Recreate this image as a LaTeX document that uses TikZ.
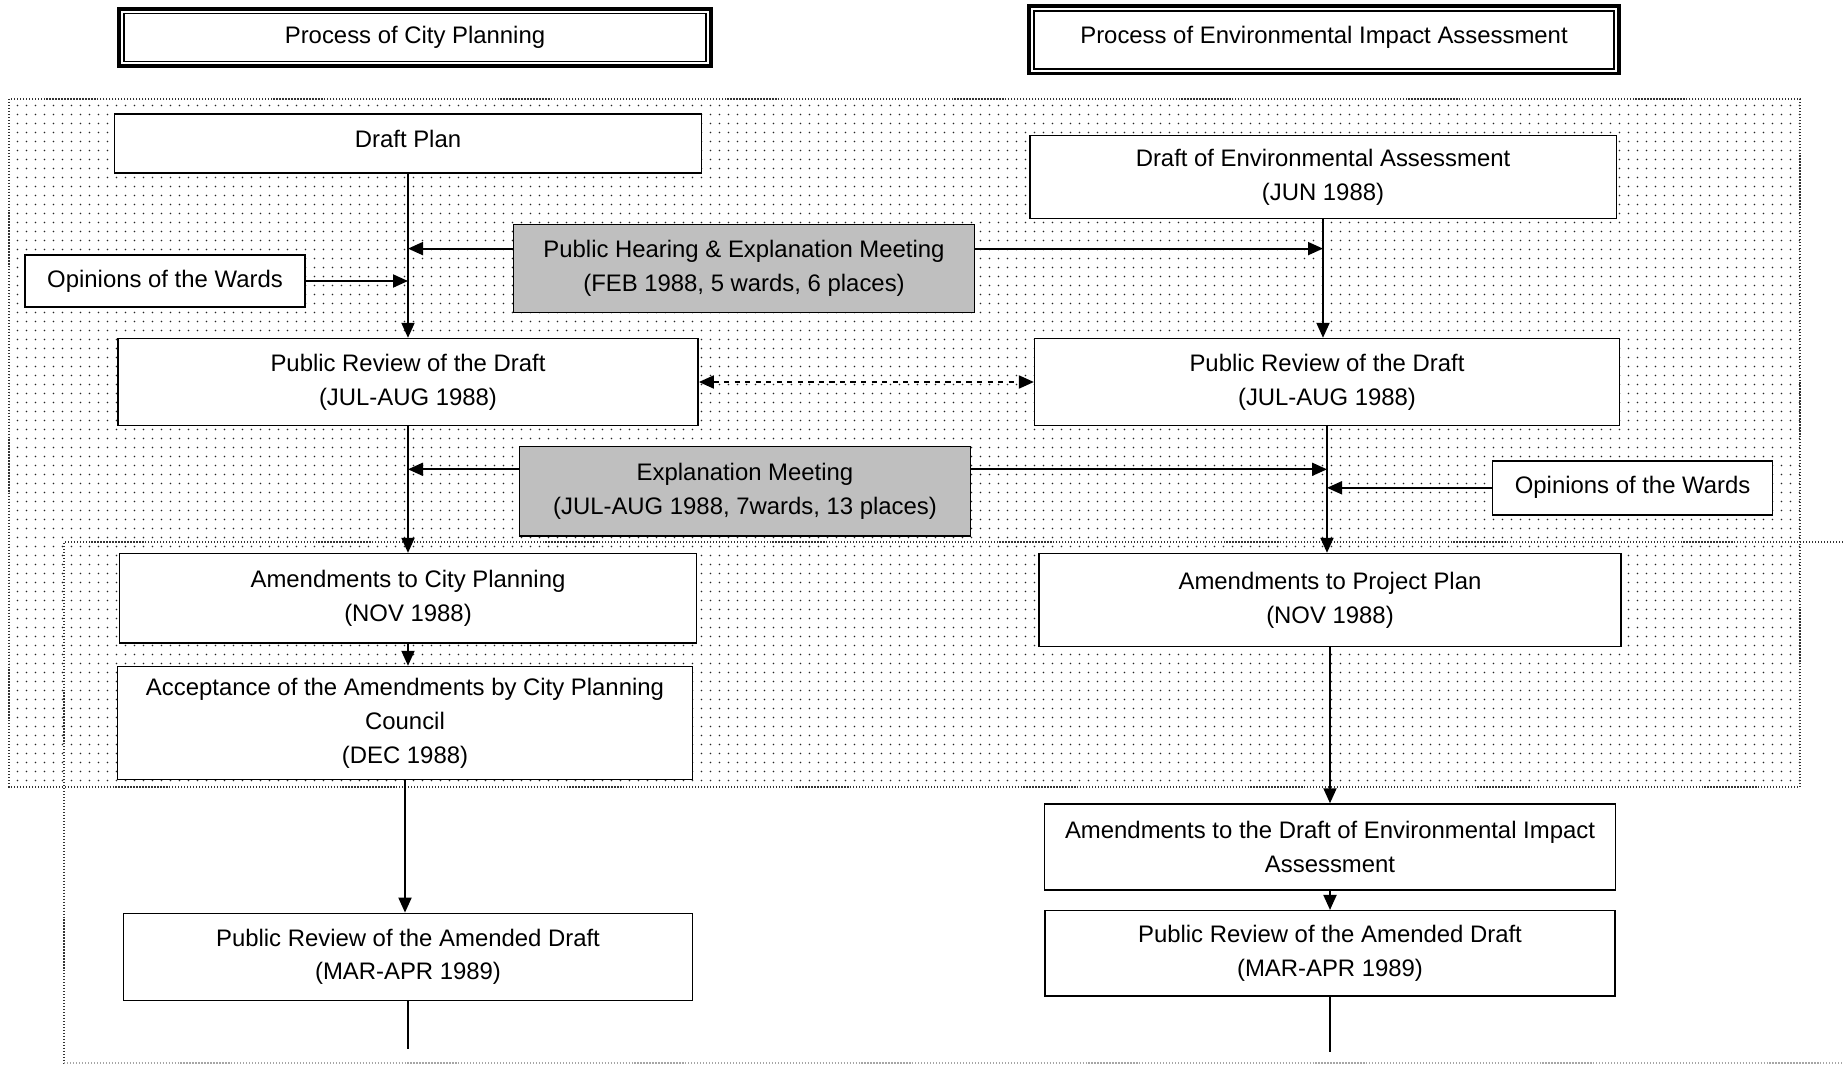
\documentclass[tikz,border=0pt]{standalone}
\usepackage{fontspec}
\setmainfont{Liberation Sans}
\usetikzlibrary{arrows.meta,patterns.meta}

\begin{document}
\begin{tikzpicture}[x=0.02cm,y=-0.02cm,
    font=\fontsize{13.6pt}{19.3pt}\selectfont,
    >={Triangle[length=0.3cm,width=0.26cm]},
    box/.style={draw,fill=white,line width=0.8pt,align=center},
    meeting/.style={box,fill=black!25},
    header/.style={draw,fill=white,line width=2pt,align=center},
    link/.style={line width=1.1pt,->},
    area/.style={draw=black!80,densely dotted,line width=0.7pt}]
  \useasboundingbox (0,0) rectangle (1843,1068);
  \path[area,pattern={Dots[distance=0.18cm,radius=0.5pt]},pattern color=black!85]
    (9,99) rectangle (1800,787);
  \draw[area] (1843,542) -- (64,542) -- (64,1063);
  \draw[area,draw=black!35] (64,1063) -- (1843,1063);
  \node[header,minimum width=11.85cm,minimum height=1.15cm] (cityhead) at (415,37.5)
    {Process of City Planning};
  \node[header,minimum width=11.81cm,minimum height=1.35cm] (eiahead) at (1324,40)
    {\raisebox{0.2cm}{Process of Environmental Impact Assessment}};
  \draw[line width=1.1pt] ([shift={(6.5,6.5)}]cityhead.north west) rectangle ([shift={(-6.5,-6.5)}]cityhead.south east);
  \draw[line width=1.1pt] ([shift={(6.5,6.5)}]eiahead.north west) rectangle ([shift={(-6.5,-6.5)}]eiahead.south east);
  \node[box,minimum width=11.75cm,minimum height=1.18cm] (draftplan) at (408,143.4)
    {\raisebox{0.2cm}{Draft Plan}};
  \node[box,minimum width=11.73cm,minimum height=1.67cm] (drafteia) at (1323,177)
    {Draft of Environmental Assessment\\(JUN 1988)};
  \node[box,minimum width=5.6cm,minimum height=1.04cm] (wardsleft) at (165,281) {Opinions of the Wards};
  \node[meeting,minimum width=9.22cm,minimum height=1.76cm] (hearing) at (744,268.6)
    {Public Hearing \& Explanation Meeting\\(FEB 1988, 5 wards, 6 places)};
  \node[box,minimum width=11.61cm,minimum height=1.74cm] (reviewcity) at (408,382)
    {Public Review of the Draft\\(JUL-AUG 1988)};
  \node[box,minimum width=11.7cm,minimum height=1.74cm] (revieweia) at (1327,382)
    {Public Review of the Draft\\(JUL-AUG 1988)};
  \node[meeting,minimum width=9.03cm,minimum height=1.79cm] (explain) at (745,491.3)
    {Explanation Meeting\\(JUL-AUG 1988, 7wards, 13 places)};
  \node[box,minimum width=5.6cm,minimum height=1.08cm] (wardsright) at (1632.6,487.8) {Opinions of the Wards};
  \node[box,minimum width=11.54cm,minimum height=1.79cm] (amendcity) at (408,598.3)
    {Amendments to City Planning\\(NOV 1988)};
  \node[box,minimum width=11.64cm,minimum height=1.86cm] (amendproject) at (1330,600)
    {Amendments to Project Plan\\(NOV 1988)};
  \node[box,minimum width=11.5cm,minimum height=2.26cm] (council) at (405,723)
    {Acceptance of the Amendments by City Planning\\Council\\(DEC 1988)};
  \node[box,minimum width=11.42cm,minimum height=1.72cm] (amendeia) at (1330,847)
    {Amendments to the Draft of Environmental Impact\\Assessment};
  \node[box,minimum width=11.38cm,minimum height=1.74cm] (amendedcity) at (408,956.8)
    {Public Review of the Amended Draft\\(MAR-APR 1989)};
  \node[box,minimum width=11.4cm,minimum height=1.71cm] (amendedeia) at (1330,953.4)
    {Public Review of the Amended Draft\\(MAR-APR 1989)};
  \coordinate (cityend) at (408,1049);
  \coordinate (eiaend) at (1330,1052);
  \draw[link] (draftplan) -- (reviewcity);
  \draw[link] (drafteia.south) -- (drafteia.south |- revieweia.north);
  \draw[link] ([shift={(0,-20)}]hearing.west) -- ([shift={(0,-20)}]hearing.west -| draftplan.south);
  \draw[link] ([shift={(0,-20)}]hearing.east) -- ([shift={(0,-20)}]hearing.east -| drafteia.south);
  \draw[link] (wardsleft) -- (wardsleft.east -| draftplan.south);
  \draw[link,<->,dashed] (reviewcity) -- (revieweia);
  \draw[link] (reviewcity) -- (amendcity);
  \draw[link] (revieweia.south) -- (revieweia.south |- amendproject.north);
  \draw[link] ([shift={(0,-22)}]explain.west) -- ([shift={(0,-22)}]explain.west -| reviewcity.south);
  \draw[link] ([shift={(0,-22)}]explain.east) -- ([shift={(0,-22)}]explain.east -| revieweia.south);
  \draw[link] (wardsright) -- (wardsright.west -| revieweia.south);
  \draw[link] (amendcity.south) -- (amendcity.south |- council.north);
  \draw[link] (council.south) -- (council.south |- amendedcity.north);
  \draw[link] (amendproject) -- (amendeia);
  \draw[link] (amendeia) -- (amendedeia);
  \draw[line width=1.1pt] (amendedcity) -- (cityend);
  \draw[line width=1.1pt] (amendedeia) -- (eiaend);
\end{tikzpicture}
\end{document}
